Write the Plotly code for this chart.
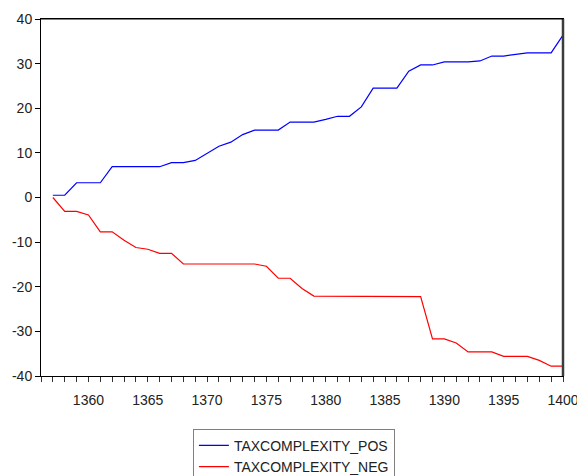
import plotly.graph_objects as go

years = list(range(1357, 1401))
tax_pos = [0.5, 0.5, 3.3, 3.3, 3.3, 6.9, 6.9, 6.9, 6.9, 6.9,
           7.8, 7.8, 8.3, 9.9, 11.5, 12.4, 14.1, 15.1, 15.1, 15.1,
           16.9, 16.9, 16.9, 17.5, 18.2, 18.2, 20.3, 24.5, 24.5, 24.5,
           28.3, 29.7, 29.7, 30.4, 30.4, 30.4, 30.6, 31.7, 31.7, 32.1,
           32.4, 32.4, 32.4, 36.4]
tax_neg = [0.0, -3.1, -3.1, -3.9, -7.7, -7.7, -9.6, -11.2, -11.6, -12.5,
           -12.5, -14.9, -14.9, -14.9, -14.9, -14.9, -14.9, -14.9, -15.4, -18.1,
           -18.1, -20.4, -22.1, -22.1, -22.1, -22.1, -22.1, -22.1, -22.2, -22.2,
           -22.2, -22.2, -31.7, -31.7, -32.6, -34.6, -34.6, -34.6, -35.6, -35.6,
           -35.6, -36.5, -37.8, -37.8]

x_ticks = [1360, 1365, 1370, 1375, 1380, 1385, 1390, 1395, 1400]
y_ticks = [-40, -30, -20, -10, 0, 10, 20, 30, 40]
y_tick_labels = ["-40", "-30", "-20", "-10", "0", "10", "20", "30", "40"]

fig = go.Figure()
fig.add_trace(go.Scatter(x=years, y=tax_pos, mode="lines", name="TAXCOMPLEXITY_POS",
                         line=dict(color="#0000FF", width=1.2)))
fig.add_trace(go.Scatter(x=years, y=tax_neg, mode="lines", name="TAXCOMPLEXITY_NEG",
                         line=dict(color="#FF0000", width=1.2)))

fig.update_layout(
    width=577, height=476,
    margin=dict(l=41, r=14, t=19, b=100, autoexpand=False),
    paper_bgcolor="white", plot_bgcolor="white",
    font=dict(family="Liberation Sans, Arial, sans-serif", size=14, color="#222"),
    showlegend=True,
    legend=dict(x=0.291, y=-0.148, xanchor="left", yanchor="top",
                bordercolor="#808080", borderwidth=1, bgcolor="white",
                font=dict(size=14, color="#222"), itemwidth=30,
                tracegroupgap=0),
    shapes=[
        dict(type="line", xref="paper", yref="paper", x0=1, x1=1, y0=0, y1=1,
             line=dict(color="#3c3c3c", width=2.5), layer="above"),
        dict(type="line", xref="paper", yref="paper", x0=0, x1=1, y0=1, y1=1,
             line=dict(color="#000", width=1.2), layer="above"),
    ],
)
fig.update_xaxes(
    range=[1356, 1400], tickvals=x_ticks, ticks="outside", ticklen=5,
    tickcolor="#333", showgrid=False, zeroline=False, ticklabeloverflow="allow",
    ticklabelstandoff=6,
    showline=True, linecolor="#000", linewidth=1, mirror=True,
    minor=dict(ticks="outside", ticklen=5, dtick=1, tick0=1356, tickcolor="#333", showgrid=False),
)
fig.update_yaxes(
    range=[-40, 40], tickvals=y_ticks, ticktext=y_tick_labels, ticks="outside", ticklen=5,
    tickcolor="#000", showgrid=False, zeroline=False,
    showline=True, linecolor="#000", linewidth=1, mirror=True,
)

fig.write_html("out.html", config={"displayModeBar": False},
               post_script="document.body.style.margin='0';")
